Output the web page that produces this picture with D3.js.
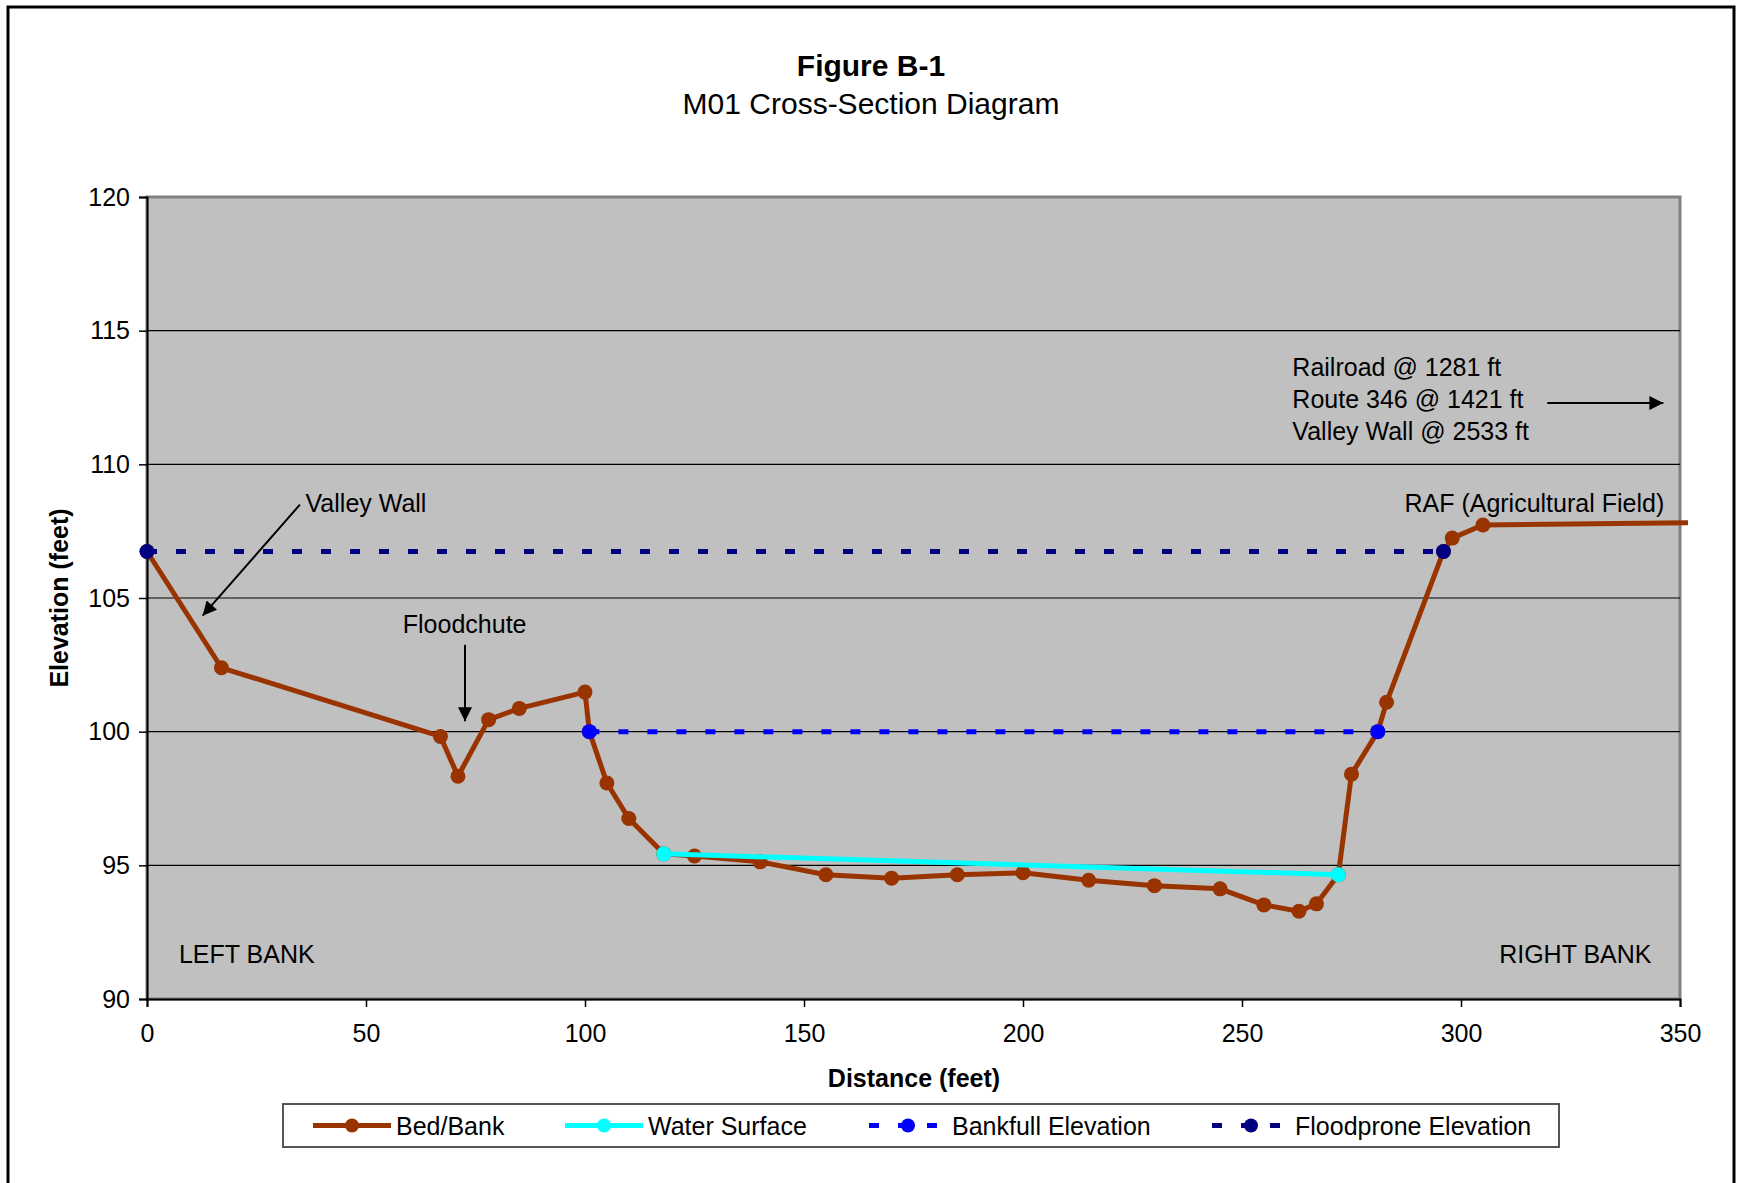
<!DOCTYPE html>
<html>
<head>
<meta charset="utf-8">
<script src="https://cdn.jsdelivr.net/npm/d3@7"></script>
<style>
  body { margin: 0; background: #fff; }
  svg { display: block; font-family: "Liberation Sans", Arial, sans-serif; }
</style>
</head>
<body>
<svg id="chart" width="1737" height="1183"></svg>
<script>
// bed / bank survey (distance ft, elevation ft); last point runs off the chart to the right
var bedX = [0, 17, 67, 71, 78, 85, 100, 101, 105, 110, 118, 125, 140, 155, 170, 185, 200, 215, 230, 245, 255, 263, 267, 272, 275, 281, 283, 296, 298, 305, 400];
var bedY = [106.74, 102.39, 99.82, 98.33, 100.45, 100.87, 101.48, 100, 98.08, 96.75, 95.43, 95.35, 95.13, 94.65, 94.52, 94.65, 94.72, 94.44, 94.24, 94.12, 93.52, 93.28, 93.56, 94.65, 98.41, 100, 101.1, 106.74, 107.24, 107.73, 107.9];

var waterX = [118, 272];
var waterY = [95.43, 94.65];

var bankfullX = [101, 281];
var bankfullY = [100, 100];

var floodX = [0, 296];
var floodY = [106.74, 106.74];

var xTicks = [0, 50, 100, 150, 200, 250, 300, 350];
var yTicks = [90, 95, 100, 105, 110, 115, 120];

var svg = d3.select("#chart"),
  plotLeft = 147, plotRight = 1680, plotTop = 197, plotBottom = 999;

var x = d3.scaleLinear().domain([0, 350]).range([plotLeft, plotRight]);
var y = d3.scaleLinear().domain([90, 120]).range([plotBottom, plotTop]);

// outer frame
svg.append("rect")
  .attr("x", 8).attr("y", 7).attr("width", 1726).attr("height", 1190)
  .attr("fill", "none").attr("stroke", "#000").attr("stroke-width", 3);

// titles
svg.append("text").attr("x", 871).attr("y", 76).attr("text-anchor", "middle")
  .attr("font-size", 30).attr("font-weight", "bold").text("Figure B-1");
svg.append("text").attr("x", 871).attr("y", 114).attr("text-anchor", "middle")
  .attr("font-size", 30).text("M01 Cross-Section Diagram");

// plot area
svg.append("rect")
  .attr("x", plotLeft).attr("y", plotTop).attr("width", plotRight - plotLeft).attr("height", plotBottom - plotTop)
  .attr("fill", "#C0C0C0").attr("stroke", "#808080").attr("stroke-width", 3);

svg.append("g").selectAll("line")
  .data(yTicks.filter(function(d) { return d > 90 && d < 120; }))
  .enter().append("line")
  .attr("x1", plotLeft).attr("x2", plotRight)
  .attr("y1", function(d) { return y(d); }).attr("y2", function(d) { return y(d); })
  .attr("stroke", "#000").attr("stroke-width", 1.2);

// axes
var yAxis = svg.append("g").attr("transform", "translate(" + plotLeft + ",0)")
  .call(d3.axisLeft(y).tickValues(yTicks).tickSize(8).tickPadding(9));
var xAxis = svg.append("g").attr("transform", "translate(0," + plotBottom + ")")
  .call(d3.axisBottom(x).tickValues(xTicks).tickSize(8).tickPadding(17));

[yAxis, xAxis].forEach(function(a) {
  a.selectAll("text").attr("font-size", 25).attr("fill", "#000")
    .attr("font-family", "Liberation Sans, Arial, sans-serif");
  a.selectAll("line").attr("stroke", "#000").attr("stroke-width", 1.5);
  a.select(".domain").attr("stroke", "#000").attr("stroke-width", 2);
});

svg.append("text").attr("x", 914).attr("y", 1087).attr("text-anchor", "middle")
  .attr("font-size", 25).attr("font-weight", "bold").text("Distance (feet)");
svg.append("text").attr("transform", "translate(68,598) rotate(-90)").attr("text-anchor", "middle")
  .attr("font-size", 25).attr("font-weight", "bold").text("Elevation (feet)");

// clip just a touch wider than plot like Excel does
svg.append("clipPath").attr("id", "clip").append("rect")
  .attr("x", plotLeft - 8).attr("y", plotTop - 8)
  .attr("width", plotRight - plotLeft + 16).attr("height", plotBottom - plotTop + 16);

var line = d3.line().x(function(d) { return x(d[0]); }).y(function(d) { return y(d[1]); });

var series = [
  { name: "Bed/Bank", xs: bedX, ys: bedY, color: "#993300", dash: null, width: 5 },
  { name: "Water Surface", xs: waterX, ys: waterY, color: "#00FFFF", dash: null, width: 5 },
  { name: "Bankfull Elevation", xs: bankfullX, ys: bankfullY, color: "#0000FF", dash: "10,19", width: 5 },
  { name: "Floodprone Elevation", xs: floodX, ys: floodY, color: "#000080", dash: "10,19", width: 5 }
];

var plot = svg.append("g").attr("clip-path", "url(#clip)");

series.forEach(function(s) {
  var pts = s.xs.map(function(v, i) { return [v, s.ys[i]]; });
  plot.append("path").datum(pts)
    .attr("d", line).attr("fill", "none")
    .attr("stroke", s.color).attr("stroke-width", s.width)
    .attr("stroke-dasharray", s.dash)
    .attr("stroke-linejoin", "round");
  plot.selectAll(null).data(pts.filter(function(d) { return d[0] <= 350; }))
    .enter().append("circle")
    .attr("cx", function(d) { return x(d[0]); })
    .attr("cy", function(d) { return y(d[1]); })
    .attr("r", 7.5).attr("fill", s.color);
});

// annotations (data units)
var defs = svg.append("defs");
defs.append("marker").attr("id", "arrow")
  .attr("viewBox", "0 0 10 10").attr("refX", 10).attr("refY", 5)
  .attr("markerWidth", 16).attr("markerHeight", 14).attr("orient", "auto")
  .attr("markerUnits", "userSpaceOnUse")
  .append("path").attr("d", "M0,0 L10,5 L0,10 z").attr("fill", "#000");

var arrows = [
  [34.9, 108.49, 12.7, 104.34],
  [72.6, 103.25, 72.6, 100.39],
  [319.7, 112.29, 346.2, 112.29]
];
svg.append("g").selectAll("line").data(arrows).enter().append("line")
  .attr("x1", function(d) { return x(d[0]); }).attr("y1", function(d) { return y(d[1]); })
  .attr("x2", function(d) { return x(d[2]); }).attr("y2", function(d) { return y(d[3]); })
  .attr("stroke", "#000").attr("stroke-width", 2).attr("marker-end", "url(#arrow)");

var notes = [
  { t: "Valley Wall", d: 36.2, v: 108.23, a: "start" },
  { t: "Floodchute", d: 58.4, v: 103.7, a: "start" },
  { t: "Railroad @ 1281 ft", d: 261.5, v: 113.31, a: "start" },
  { t: "Route 346 @ 1421 ft", d: 261.5, v: 112.12, a: "start" },
  { t: "Valley Wall @ 2533 ft", d: 261.5, v: 110.92, a: "start" },
  { t: "RAF (Agricultural Field)", d: 346.4, v: 108.23, a: "end" },
  { t: "LEFT BANK", d: 7.3, v: 91.36, a: "start" },
  { t: "RIGHT BANK", d: 343.5, v: 91.36, a: "end" }
];
svg.append("g").selectAll("text").data(notes).enter().append("text")
  .attr("x", function(d) { return x(d.d); }).attr("y", function(d) { return y(d.v); })
  .attr("text-anchor", function(d) { return d.a; })
  .attr("font-size", 25).attr("fill", "#000")
  .text(function(d) { return d.t; });

// legend
var legend = svg.append("g");
legend.append("rect").attr("x", 283).attr("y", 1104).attr("width", 1276).attr("height", 43)
  .attr("fill", "#fff").attr("stroke", "#555").attr("stroke-width", 2);
var legendX = [313, 565, 869, 1212];
var ly = 1125.5;
series.forEach(function(s, i) {
  var g = legend.append("g").attr("transform", "translate(" + legendX[i] + "," + ly + ")");
  g.append("line").attr("x1", 0).attr("x2", 78).attr("stroke", s.color)
    .attr("stroke-width", s.width).attr("stroke-dasharray", s.dash ? "10,19" : null);
  g.append("circle").attr("cx", 39).attr("cy", 0).attr("r", 7).attr("fill", s.color);
  g.append("text").attr("x", 83).attr("y", 9).attr("font-size", 25).text(s.name);
});
</script>
</body>
</html>
